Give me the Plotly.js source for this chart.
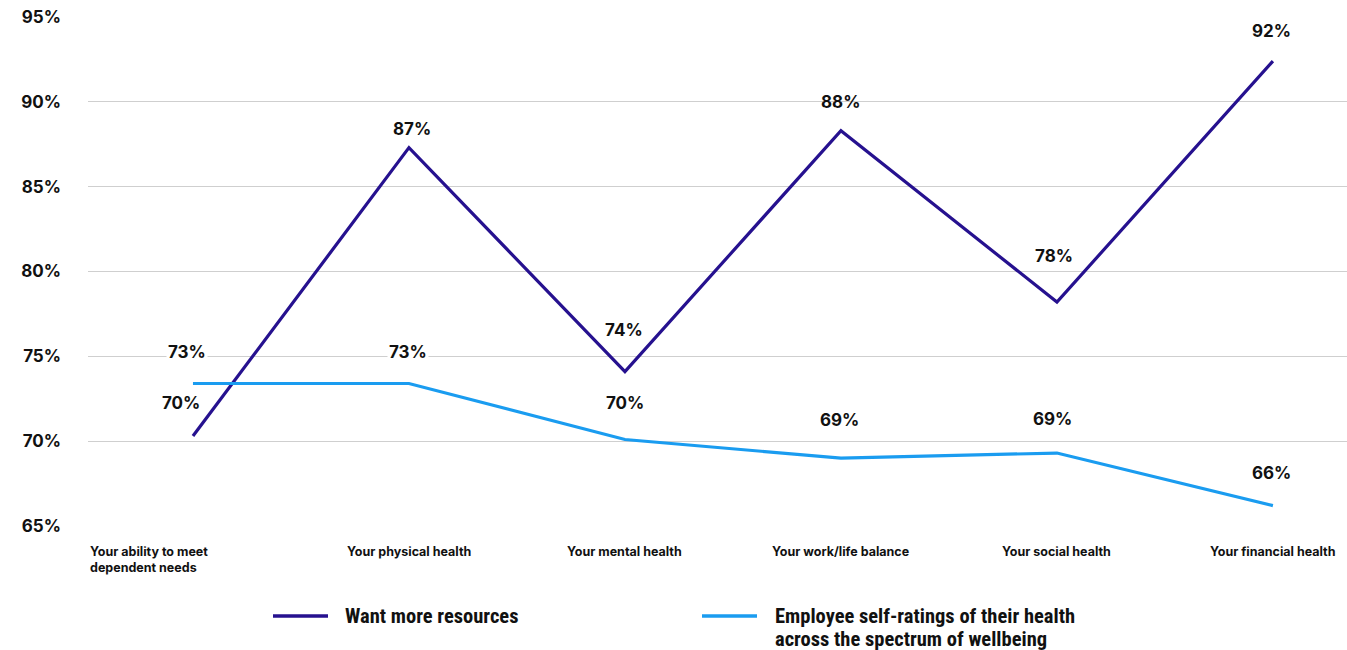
<!DOCTYPE html>
<html>
<head>
<meta charset="utf-8">
<script src="https://cdn.plot.ly/plotly-3.0.1.min.js"></script>
<style>html,body{margin:0;padding:0;background:#fff;}#chart{width:1347px;height:650px;}</style>
</head>
<body>
<div id="chart"></div>
<script>
const categories = [
  "Your ability to meet<br>dependent needs",
  "Your physical health",
  "Your mental health",
  "Your work/life balance",
  "Your social health",
  "Your financial health"
];
const wantMore = [70.3, 87.3, 74.1, 88.3, 78.2, 92.4];
const selfRatings = [73.4, 73.4, 70.1, 69.0, 69.3, 66.2];
const wantMoreLabels = ["70%", "87%", "74%", "88%", "78%", "92%"];
const selfRatingLabels = ["73%", "73%", "70%", "69%", "69%", "66%"];
const seriesNames = ["Want more resources", "Employee self-ratings of their health", "across the spectrum of wellbeing"];
const yTicks = [65, 70, 75, 80, 85, 90, 95];

// label offsets (style only)
const wantShift = [[-12, 33], [3, 19], [-1, 42], [0, 29], [-3, 46], [-1, 30]];
const selfShift = [[-6, 31], [-1, 31], [0, 36], [-1, 38], [-4, 34], [-1, 33]];

const purple = "#26118f";
const blue = "#1a9cf0";
const idx = categories.map((_, i) => i);

const traces = [
  {x: idx, y: wantMore, type: "scatter", mode: "lines", name: seriesNames[0],
   line: {color: purple, width: 3.2}, hoverinfo: "skip", showlegend: false},
  {x: idx, y: selfRatings, type: "scatter", mode: "lines", name: seriesNames[1] + " " + seriesNames[2],
   line: {color: blue, width: 3.2}, hoverinfo: "skip", showlegend: false}
];

const numFont = {family: "Inter, 'Noto Sans', sans-serif", size: 17, color: "#111", weight: 700};
const annotations = [];
wantMore.forEach((v, i) => annotations.push({
  x: i, y: v, xref: "x", yref: "y", text: wantMoreLabels[i], showarrow: false,
  xshift: wantShift[i][0], yshift: wantShift[i][1], font: numFont
}));
selfRatings.forEach((v, i) => annotations.push({
  x: i, y: v, xref: "x", yref: "y", text: selfRatingLabels[i], showarrow: false,
  xshift: selfShift[i][0], yshift: selfShift[i][1], font: numFont, bgcolor: "#ffffff", borderpad: 1
}));
const catFont = {family: "Inter, 'Noto Sans', sans-serif", size: 12.5, color: "#111", weight: 700};
categories.forEach((c, i) => {
  if (i === 0) {
    annotations.push({x: 0, y: 0, xref: "paper", yref: "paper", text: c, showarrow: false,
      xanchor: "left", yanchor: "top", align: "left", yshift: -16, font: catFont});
  } else {
    annotations.push({x: i, y: 0, xref: "x", yref: "paper", text: c, showarrow: false,
      xanchor: "center", yanchor: "top", yshift: -16, font: catFont});
  }
});

// custom legend
const legFont = {family: "'Liberation Sans Narrow', 'Roboto Condensed', Roboto, sans-serif", size: 20.5, color: "#111", weight: 700};
const py = y => (526 - y) / 509;
const px = x => (x - 88) / 1259;
const shapes = [
  {type: "line", xref: "paper", yref: "paper", x0: px(273), x1: px(328), y0: py(616), y1: py(616), line: {color: purple, width: 3.5}},
  {type: "line", xref: "paper", yref: "paper", x0: px(702), x1: px(757), y0: py(616), y1: py(616), line: {color: blue, width: 3.5}}
];
annotations.push({x: px(343), y: py(616), xref: "paper", yref: "paper", text: seriesNames[0], showarrow: false, xanchor: "left", yanchor: "middle", align: "left", font: legFont});
annotations.push({x: px(773), y: py(616), xref: "paper", yref: "paper", text: seriesNames[1], showarrow: false, xanchor: "left", yanchor: "middle", align: "left", font: legFont});
annotations.push({x: px(773), y: py(639), xref: "paper", yref: "paper", text: seriesNames[2], showarrow: false, xanchor: "left", yanchor: "middle", align: "left", font: legFont});

const layout = {
  width: 1347, height: 650,
  margin: {l: 88, r: 0, t: 17, b: 124, pad: 0},
  paper_bgcolor: "#fff", plot_bgcolor: "#fff",
  showlegend: false,
  xaxis: {range: [-0.486, 5.343], showticklabels: false, showgrid: false, zeroline: false, fixedrange: true},
  yaxis: {range: [65, 95], tickvals: yTicks, ticktext: yTicks.map(t => t + "%"),
    showgrid: true, gridcolor: "#cfcfcf", gridwidth: 1, zeroline: false, ticks: "",
    ticklabelstandoff: 26,
    tickfont: {family: "Inter, 'Noto Sans', sans-serif", size: 17, color: "#111", weight: 700}, fixedrange: true},
  annotations: annotations,
  shapes: shapes
};

Plotly.newPlot("chart", traces, layout, {displayModeBar: false, staticPlot: true});
</script>
</body>
</html>
